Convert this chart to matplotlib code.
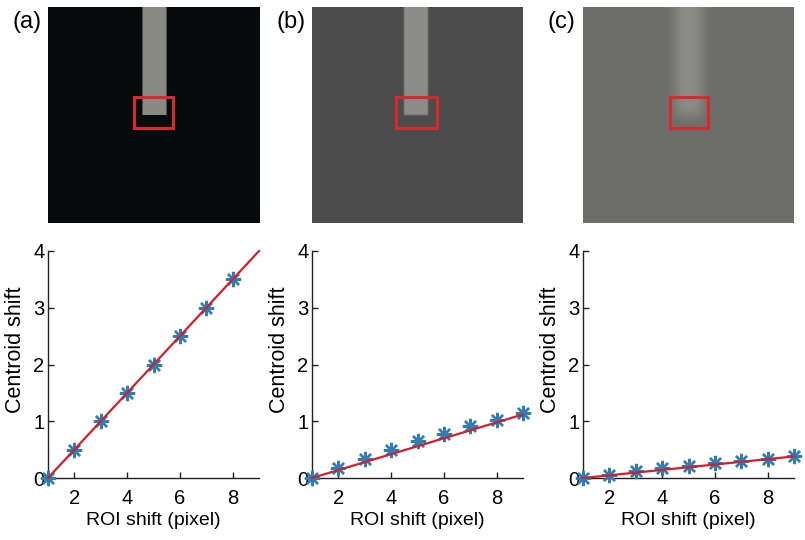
import matplotlib.pyplot as plt
import numpy as np
from matplotlib.patches import Rectangle

plt.rcParams['font.family'] = ['Liberation Sans', 'DejaVu Sans']

# data
roi_shift = [1, 2, 3, 4, 5, 6, 7, 8, 9]
centroid_a = [0, 0.5, 1.0, 1.5, 2.0, 2.5, 3.0, 3.5]
centroid_b = [0, 0.18, 0.34, 0.50, 0.65, 0.78, 0.91, 1.03, 1.15]
centroid_c = [0, 0.06, 0.12, 0.17, 0.22, 0.26, 0.30, 0.34, 0.39]
fit_x = [1, 9]
fit_a = [0, 4.0]
fit_b = [0, 1.12]
fit_c = [0, 0.38]
panel_labels = ['(a)', '(b)', '(c)']

# image panels: background / bar colours, bar & ROI box (pixels), blur
img_w, img_h = 211, 216
bg_rgb = [(0.035, 0.045, 0.05), (0.30, 0.30, 0.30), (0.43, 0.43, 0.42)]
bar_rgb = [(0.54, 0.54, 0.52), (0.55, 0.55, 0.54), (0.55, 0.55, 0.53)]
bar_x = [(94, 118), (92, 116), (93, 119)]
bar_bottom = 108
box = [(86, 90, 39, 31), (84, 90, 41, 31), (87, 90, 38, 31)]
blur = [0, 0.8, 5.0]


def gauss_blur(a, s):
    if s <= 0:
        return a
    r = int(3 * s) + 1
    k = np.exp(-0.5 * (np.arange(-r, r + 1) / s) ** 2)
    k /= k.sum()
    p = np.pad(a, r, mode='edge')
    p = np.apply_along_axis(lambda v: np.convolve(v, k, mode='same'), 0, p)
    p = np.apply_along_axis(lambda v: np.convolve(v, k, mode='same'), 1, p)
    return p[r:-r, r:-r]


fig = plt.figure(figsize=(8.05, 5.4), dpi=100)
img_left = [48, 312, 583]
centroids = [centroid_a, centroid_b, centroid_c]
fits = [fit_a, fit_b, fit_c]

for i in range(3):
    # top: image
    ax = fig.add_axes([img_left[i] / 805, (540 - 223) / 540, img_w / 805, img_h / 540])
    mask = np.zeros((img_h, img_w))
    x0, x1 = bar_x[i]
    mask[:bar_bottom, x0:x1] = 1.0
    mask = gauss_blur(mask, blur[i])[..., None]
    im = np.array(bg_rgb[i]) * (1 - mask) + np.array(bar_rgb[i]) * mask
    ax.imshow(np.clip(im, 0, 1), extent=(0, img_w, img_h, 0),
              interpolation='bilinear', aspect='auto')
    bx, by, bw, bh = box[i]
    ax.add_patch(Rectangle((bx, by), bw, bh, fill=False, ec='#d42a30', lw=2.2))
    ax.set_xlim(0, img_w)
    ax.set_ylim(img_h, 0)
    ax.axis('off')
    fig.text((img_left[i] - 36) / 805, 1 - 11 / 540, panel_labels[i],
             fontsize=17, va='top', ha='left')

    # bottom: centroid shift plot
    ax = fig.add_axes([img_left[i] / 805, (540 - 478) / 540, 211 / 805, 227 / 540])
    n = len(centroids[i])
    ax.plot(roi_shift[:n], centroids[i], ls='none', marker=(8, 2, 0),
            ms=11, mew=1.7, mec='#2f7db5', clip_on=False, zorder=3)
    ax.plot(fit_x, fits[i], color='#d41f2a', lw=1.6, clip_on=False, zorder=4)
    ax.set_xlim(1, 9)
    ax.set_ylim(0, 4)
    ax.set_xticks([2, 4, 6, 8])
    ax.set_yticks([0, 1, 2, 3, 4])
    ax.spines['top'].set_visible(False)
    ax.spines['right'].set_visible(False)
    for s in ['left', 'bottom']:
        ax.spines[s].set_linewidth(1.0)
        ax.spines[s].set_color('#222222')
    ax.tick_params(direction='in', length=4, width=1.0, labelsize=14.5, color='#222222')
    ax.tick_params(axis='x', pad=8)
    ax.tick_params(axis='y', pad=2.5)
    ax.set_xlabel('ROI shift (pixel)', fontsize=14, labelpad=3)
    ax.set_ylabel('Centroid shift', fontsize=15.5)
    ax.yaxis.set_label_coords(-0.104, 0.564)

plt.savefig('out.png', dpi=100)
